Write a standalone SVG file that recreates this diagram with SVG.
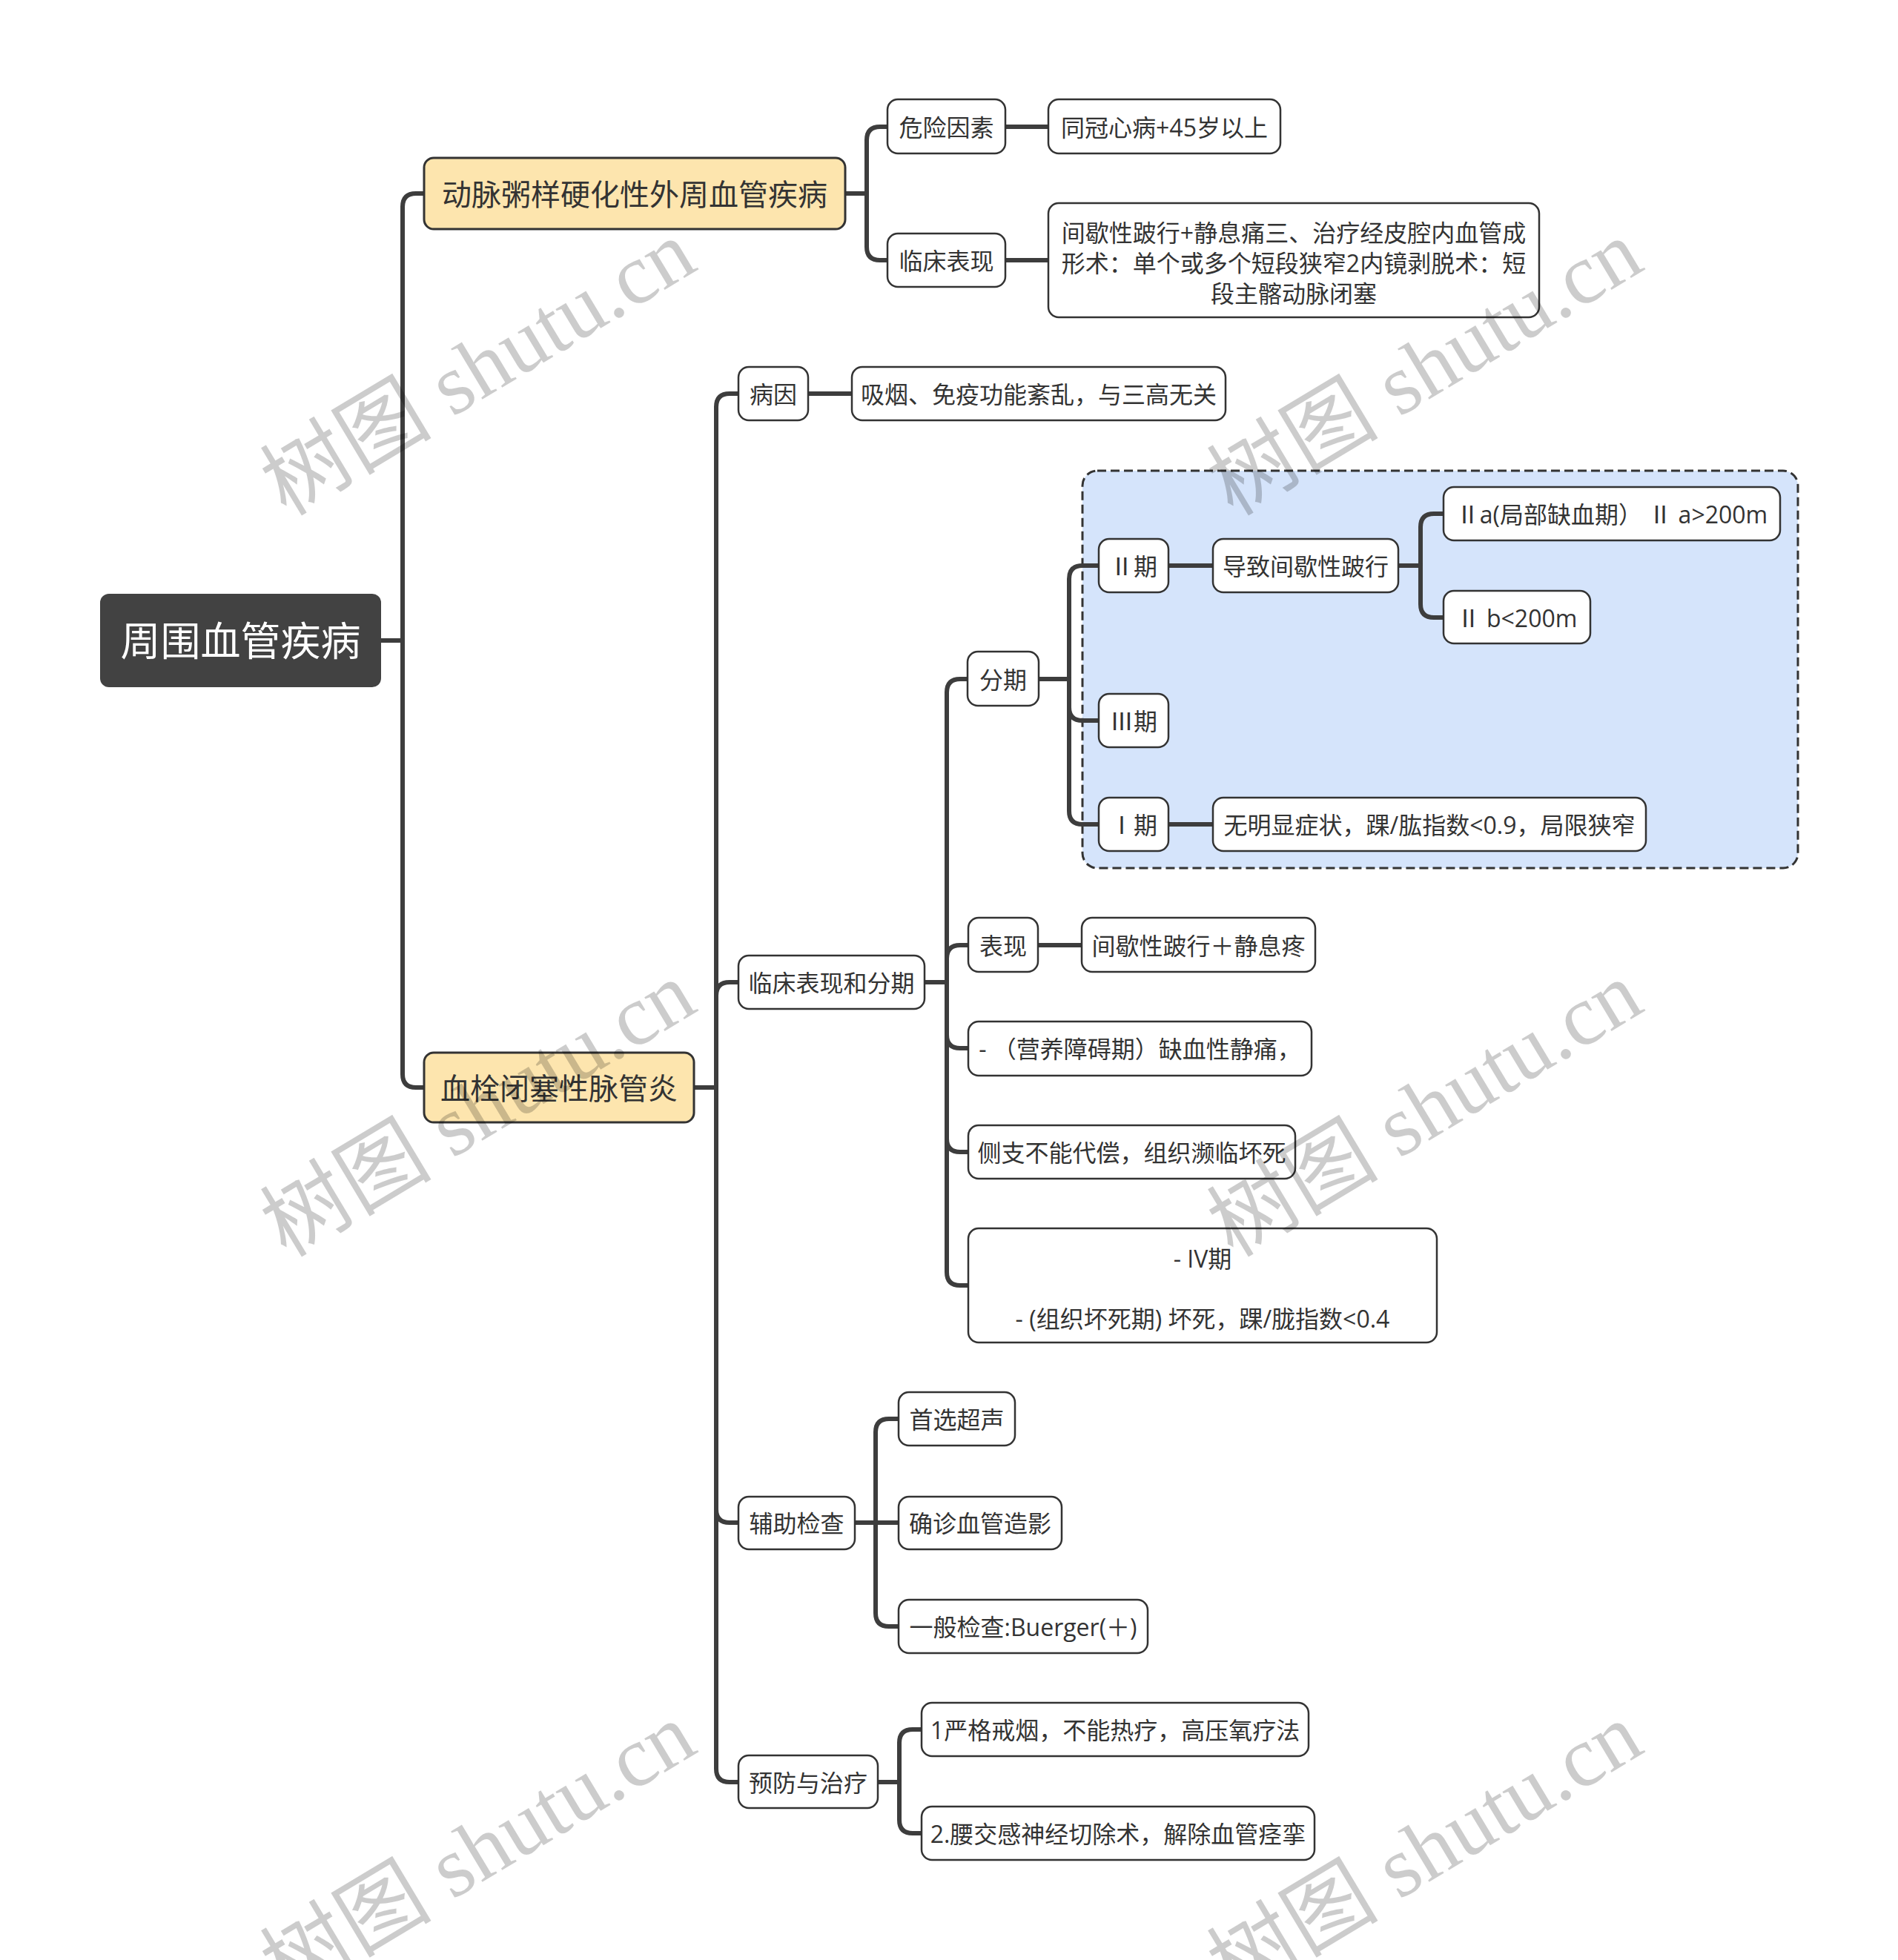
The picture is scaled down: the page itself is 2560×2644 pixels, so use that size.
<svg xmlns="http://www.w3.org/2000/svg" width="2560" height="2644" viewBox="0 0 2560 2644">
<style>
.bg{fill:#ffffff}
.c path{fill:none;stroke:#3d3d3d;stroke-width:6;stroke-linejoin:round}
.n rect{fill:#ffffff;stroke:#333333;stroke-width:2.5}
.m rect{fill:#fde5ae;stroke:#333333;stroke-width:3}
.r rect{fill:#424242;stroke:none}
text{font-family:"Open Sans","Noto Sans CJK SC",sans-serif;text-anchor:middle;dominant-baseline:central;fill:#333333}
.t{font-size:32px}
.mt{font-size:40px}
.rt{font-size:54px;fill:#ffffff}
.wm{font-family:"Liberation Serif","Noto Sans CJK SC",serif;font-size:116px;fill:#000000;fill-opacity:0.2;dominant-baseline:auto}
</style>
<rect class="bg" x="0" y="0" width="2560" height="2644"/>

<g id="boundary-stages">
<rect x="1460" y="635" width="965" height="536" rx="20" fill="#d5e4fb" stroke="#333333" stroke-width="3" stroke-dasharray="12 6"/>
</g>

<g id="connectors" class="c">
<path d="M514 864 H543 V279 Q543 261 561 261 H572"/>
<path d="M514 864 H543 V1449 Q543 1467 561 1467 H572"/>
<path d="M1140 261 H1169 V189 Q1169 171 1187 171 H1197"/>
<path d="M1140 261 H1169 V333 Q1169 351 1187 351 H1197"/>
<path d="M1356 171 H1414"/>
<path d="M1356 351 H1414"/>
<path d="M936 1467 H966 V549 Q966 531 984 531 H996"/>
<path d="M936 1467 H966 V1343 Q966 1325 984 1325 H996"/>
<path d="M936 1467 H966 V2036 Q966 2054 984 2054 H996"/>
<path d="M936 1467 H966 V2386 Q966 2404 984 2404 H996"/>
<path d="M1090 531 H1149"/>
<path d="M1247 1325 H1277 V934 Q1277 916 1295 916 H1305"/>
<path d="M1247 1325 H1277 V1293 Q1277 1275 1295 1275 H1306"/>
<path d="M1247 1325 H1277 V1396 Q1277 1414 1295 1414 H1306"/>
<path d="M1247 1325 H1277 V1536 Q1277 1554 1295 1554 H1306"/>
<path d="M1247 1325 H1277 V1716 Q1277 1734 1295 1734 H1306"/>
<path d="M1400 1275 H1459"/>
<path d="M1401 916 H1442 V781 Q1442 763 1460 763 H1482"/>
<path d="M1401 916 H1442 V954 Q1442 972 1460 972 H1482"/>
<path d="M1401 916 H1442 V1094 Q1442 1112 1460 1112 H1482"/>
<path d="M1576 763 H1636"/>
<path d="M1576 1112 H1636"/>
<path d="M1886 763 H1916 V711 Q1916 693 1934 693 H1947"/>
<path d="M1886 763 H1916 V815 Q1916 833 1934 833 H1947"/>
<path d="M1153 2054 H1181 V1932 Q1181 1914 1199 1914 H1212"/>
<path d="M1153 2054 H1212"/>
<path d="M1153 2054 H1181 V2176 Q1181 2194 1199 2194 H1212"/>
<path d="M1184 2404 H1213 V2351 Q1213 2333 1231 2333 H1243"/>
<path d="M1184 2404 H1213 V2455 Q1213 2473 1231 2473 H1243"/>
</g>

<g id="root" class="r"><rect x="135" y="801" width="379" height="126" rx="12"/><text class="rt" x="324.5" y="864">周围血管疾病</text></g>

<g id="topic-a" class="m"><rect x="572" y="213" width="568" height="96" rx="13"/><text class="mt" x="856" y="261">动脉粥样硬化性外周血管疾病</text></g>
<g id="topic-b" class="m"><rect x="572" y="1420" width="364" height="94" rx="13"/><text class="mt" x="754" y="1467">血栓闭塞性脉管炎</text></g>

<g id="n-risk" class="n"><rect x="1197" y="134" width="159" height="73" rx="14"/><text class="t" x="1276.5" y="171">危险因素</text></g>
<g id="n-risk-1" class="n"><rect x="1414" y="134" width="313" height="73" rx="14"/><text class="t" x="1570.5" y="171">同冠心病+45岁以上</text></g>
<g id="n-clin" class="n"><rect x="1197" y="315" width="159" height="72" rx="14"/><text class="t" x="1276.5" y="351">临床表现</text></g>
<g id="n-clin-1" class="n"><rect x="1414" y="274" width="662" height="154" rx="14"/>
<text class="t" x="1745" y="313">间歇性跛行+静息痛三、治疗经皮腔内血管成</text>
<text class="t" x="1745" y="354">形术：单个或多个短段狭窄2内镜剥脱术：短</text>
<text class="t" x="1745" y="395">段主髂动脉闭塞</text></g>

<g id="n-cause" class="n"><rect x="996" y="495" width="94" height="72" rx="14"/><text class="t" x="1043" y="531">病因</text></g>
<g id="n-cause-1" class="n"><rect x="1149" y="495" width="504" height="72" rx="14"/><text class="t" x="1401" y="531">吸烟、免疫功能紊乱，与三高无关</text></g>

<g id="n-cs" class="n"><rect x="996" y="1289" width="251" height="72" rx="14"/><text class="t" x="1121.5" y="1325">临床表现和分期</text></g>
<g id="n-stage" class="n"><rect x="1305" y="879" width="96" height="73" rx="14"/><text class="t" x="1353" y="916">分期</text></g>
<g id="n-s2" class="n"><rect x="1482" y="727" width="94" height="72" rx="14"/><text class="t" x="1529" y="763">Ⅱ期</text></g>
<g id="n-s2-1" class="n"><rect x="1636" y="727" width="250" height="72" rx="14"/><text class="t" x="1761" y="763">导致间歇性跛行</text></g>
<g id="n-s2a" class="n"><rect x="1947" y="657" width="454" height="72" rx="14"/><text class="t" x="2174" y="693">Ⅱa(局部缺血期）  Ⅱ a&gt;200m</text></g>
<g id="n-s2b" class="n"><rect x="1947" y="797" width="198" height="71" rx="14"/><text class="t" x="2046" y="833">Ⅱ b&lt;200m</text></g>
<g id="n-s3" class="n"><rect x="1482" y="936" width="94" height="72" rx="14"/><text class="t" x="1529" y="972">Ⅲ期</text></g>
<g id="n-s1" class="n"><rect x="1482" y="1076" width="94" height="72" rx="14"/><text class="t" x="1529" y="1112">Ⅰ期</text></g>
<g id="n-s1-1" class="n"><rect x="1636" y="1076" width="584" height="72" rx="14"/><text class="t" x="1928" y="1112">无明显症状，踝/肱指数&lt;0.9，局限狭窄</text></g>

<g id="n-sym" class="n"><rect x="1306" y="1238" width="94" height="73" rx="14"/><text class="t" x="1353" y="1275">表现</text></g>
<g id="n-sym-1" class="n"><rect x="1459" y="1238" width="315" height="73" rx="14"/><text class="t" x="1616.5" y="1275">间歇性跛行＋静息疼</text></g>
<g id="n-nutr" class="n"><rect x="1306" y="1378" width="463" height="73" rx="14"/><text class="t" x="1537.5" y="1414">- （营养障碍期）缺血性静痛，</text></g>
<g id="n-coll" class="n"><rect x="1306" y="1518" width="441" height="72" rx="14"/><text class="t" x="1526.5" y="1554">侧支不能代偿，组织濒临坏死</text></g>
<g id="n-s4" class="n"><rect x="1306" y="1657" width="632" height="154" rx="14"/>
<text class="t" x="1622" y="1697">- IV期</text>
<text class="t" x="1622" y="1778">- (组织坏死期) 坏死，踝/胧指数&lt;0.4</text></g>

<g id="n-aux" class="n"><rect x="996" y="2019" width="157" height="71" rx="14"/><text class="t" x="1074.5" y="2054">辅助检查</text></g>
<g id="n-aux-1" class="n"><rect x="1212" y="1878" width="157" height="72" rx="14"/><text class="t" x="1290.5" y="1914">首选超声</text></g>
<g id="n-aux-2" class="n"><rect x="1212" y="2019" width="220" height="71" rx="14"/><text class="t" x="1322" y="2054">确诊血管造影</text></g>
<g id="n-aux-3" class="n"><rect x="1212" y="2158" width="336" height="72" rx="14"/><text class="t" x="1380" y="2194">一般检查:Buerger(＋)</text></g>

<g id="n-prev" class="n"><rect x="996" y="2368" width="188" height="71" rx="14"/><text class="t" x="1090" y="2404">预防与治疗</text></g>
<g id="n-prev-1" class="n"><rect x="1243" y="2297" width="522" height="72" rx="14"/><text class="t" x="1504" y="2333">1严格戒烟，不能热疗，高压氧疗法</text></g>
<g id="n-prev-2" class="n"><rect x="1243" y="2437" width="530" height="72" rx="14"/><text class="t" x="1508" y="2473">2.腰交感神经切除术，解除血管痉挛</text></g>

<g id="watermarks">
<text class="wm" transform="translate(665 530) rotate(-31)">树图 shutu.cn</text>
<text class="wm" transform="translate(1942 530) rotate(-31)">树图 shutu.cn</text>
<text class="wm" transform="translate(665 1530) rotate(-31)">树图 shutu.cn</text>
<text class="wm" transform="translate(1942 1530) rotate(-31)">树图 shutu.cn</text>
<text class="wm" transform="translate(665 2530) rotate(-31)">树图 shutu.cn</text>
<text class="wm" transform="translate(1942 2530) rotate(-31)">树图 shutu.cn</text>
</g>
</svg>
